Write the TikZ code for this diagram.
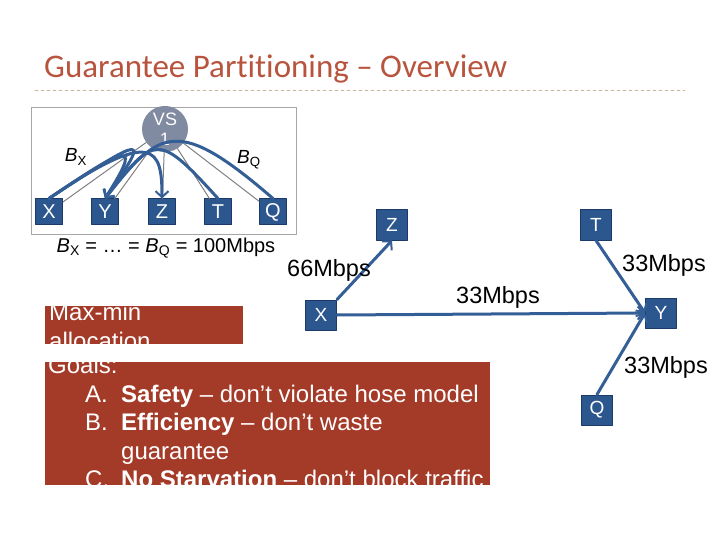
\documentclass[tikz,border=0pt]{standalone}
\usepackage{fontspec}
\setmainfont{Liberation Sans}
\newfontfamily\titlefont[Ligatures=NoCommon]{Carlito}
\usetikzlibrary{arrows.meta,shapes.geometric}

\definecolor{titlered}{RGB}{184,84,62}
\definecolor{ruletan}{RGB}{200,182,160}
\definecolor{hostblue}{RGB}{44,86,142}
\definecolor{hostedge}{RGB}{28,58,104}
\definecolor{flowblue}{RGB}{52,94,150}
\definecolor{vsgray}{RGB}{128,138,160}
\definecolor{goalred}{RGB}{164,58,40}

\begin{document}
\begin{tikzpicture}[x=1pt, y=-1pt, >={Straight Barb[length=6pt,width=13pt,line width=2pt]}, line cap=round, line join=round,
  host/.style={draw=hostedge, fill=hostblue, line width=1pt, text=white, inner sep=0pt},
  flow/.style={draw=flowblue, line width=3pt},
  link/.style={draw=gray, line width=1pt},
  rate/.style={font=\fontsize{23.5}{23.5}\selectfont},
  goal/.style={anchor=base west, text=white, inner sep=0pt, font=\fontsize{24}{24}\selectfont}]

\useasboundingbox (0,0) rectangle (720,540);

% title
\node[anchor=base west, inner sep=0pt, text=titlered, font=\titlefont\fontsize{33}{33}\selectfont] (title) at (44,78) {Guarantee Partitioning – Overview};
\draw[ruletan, dashed, line width=0.8pt] (35,90) -- (685,90);

% hose model (left)
\draw[gray!70, line width=0.8pt] (31,107) rectangle (296,234);
\node[host, minimum width=27pt, minimum height=26pt, font=\fontsize{20}{20}\selectfont] (lx) at (49,212) {X};
\node[host, minimum width=27pt, minimum height=26pt, font=\fontsize{20}{20}\selectfont] (ly) at (105,212) {Y};
\node[host, minimum width=27pt, minimum height=26pt, font=\fontsize{20}{20}\selectfont] (lz) at (162,212) {Z};
\node[host, minimum width=27pt, minimum height=26pt, font=\fontsize{20}{20}\selectfont] (lt) at (218,212) {T};
\node[host, minimum width=27pt, minimum height=26pt, font=\fontsize{20}{20}\selectfont] (lq) at (273,212) {Q};
\node[ellipse, fill=vsgray, minimum width=46pt, minimum height=28pt, inner sep=0pt, text=white, align=center, font=\fontsize{18}{20}\selectfont] (vs) at (165,129) {VS\\1};

\draw[link] (vs) -- (lx);
\draw[link] (vs) -- (ly);
\draw[link] (vs) -- (lz);
\draw[link] (vs) -- (lt);
\draw[link] (vs) -- (lq);

\draw[flow, ->] (lx.north) .. controls +(105,-72) and +(0,-50) .. (lz.north);
\draw[flow, ->] (lx.north) .. controls +(100,-66) and +(45,-64) .. (ly.north);
\draw[flow, ->] (lx.north) .. controls +(85,-58) and +(35,-55) .. (ly.north);
\draw[flow, ->] (lt.north) .. controls +(-60,-66) and +(50,-64) .. (ly.north);
\draw[flow, ->] (lq.north) .. controls +(-95,-82) and +(55,-70) .. (ly.north);

\node[font=\fontsize{19}{19}\selectfont] (bx) at (76,157) {\textit{B}\textsubscript{X}};
\node[font=\fontsize{19}{19}\selectfont] (bq) at (249,160) {\textit{B}\textsubscript{Q}};
\node[font=\fontsize{20}{20}\selectfont] (hose) at (166,248) {\textit{B}\textsubscript{X} = \dots{} = \textit{B}\textsubscript{Q} = 100Mbps};

% max-min allocation (right)
\node[host, minimum width=31pt, minimum height=30pt, font=\fontsize{19}{19}\selectfont] (rx) at (321,315) {X};
\node[host, minimum width=31pt, minimum height=30pt, font=\fontsize{19}{19}\selectfont] (rz) at (392,225) {Z};
\node[host, minimum width=31pt, minimum height=30pt, font=\fontsize{19}{19}\selectfont] (rt) at (596,225) {T};
\node[host, minimum width=31pt, minimum height=30pt, font=\fontsize{19}{19}\selectfont] (ry) at (661,313) {Y};
\node[host, minimum width=31pt, minimum height=30pt, font=\fontsize{19}{19}\selectfont] (rq) at (597,410) {Q};

\draw[flow, ->] (rx.north east) -- (rz.south);
\draw[flow, ->] (rx.east) -- (ry.west);
\draw[flow, ->] (rt.south) -- (ry.west);
\draw[flow, ->] (rq.north) -- (ry.west);

\node[rate] (r1) at (329,270) {66Mbps};
\node[rate] (r2) at (498,297) {33Mbps};
\node[rate] (r3) at (664,265) {33Mbps};
\node[rate] (r4) at (666,367) {33Mbps};

% red boxes
\begin{scope}
\clip (45,306) rectangle (243,344);
\fill[goalred] (45,306) rectangle (243,344);
\node[goal] (mm1) at (49,320) {Max-min};
\node[goal] (mm2) at (49,349) {allocation};
\end{scope}
\begin{scope}
\clip (45,362) rectangle (490,485);
\fill[goalred] (45,362) rectangle (490,485);
\node[goal] (g0) at (48,373) {Goals:};
\node[goal] (g1) at (85,402) {A.};
\node[goal] (g1t) at (121,402) {\textbf{Safety} – don’t violate hose model};
\node[goal] (g2) at (85,430) {B.};
\node[goal] (g2t) at (121,430) {\textbf{Efficiency} – don’t waste};
\node[goal] (g3t) at (121,459) {guarantee};
\node[goal] (g4) at (85,487) {C.};
\node[goal] (g4t) at (121,487) {\textbf{No Starvation} – don’t block traffic};
\end{scope}

\end{tikzpicture}
\end{document}
